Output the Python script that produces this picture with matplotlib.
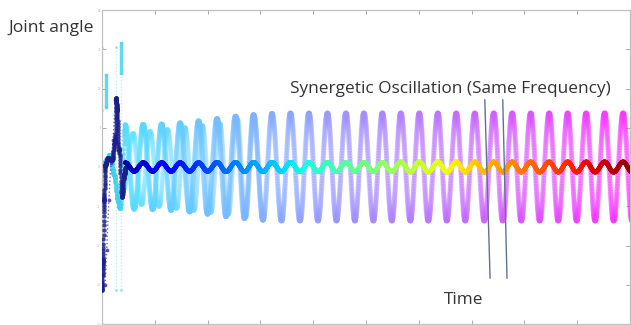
import matplotlib.pyplot as plt
import numpy as np
from matplotlib import cm

# extrema of the synchronised oscillation (time, angle)
big_t = [0.44, 0.61, 0.78, 0.96, 1.13, 1.31, 1.48, 1.66, 1.83, 2.00,
         2.18, 2.35, 2.53, 2.70, 2.87, 3.05, 3.22, 3.40, 3.57, 3.75,
         3.92, 4.09, 4.27, 4.44, 4.62, 4.79, 4.96, 5.14, 5.31, 5.49,
         5.66, 5.84, 6.01, 6.18, 6.36, 6.53, 6.71, 6.88, 7.06, 7.24,
         7.42, 7.59, 7.77, 7.94, 8.12, 8.29, 8.47, 8.64, 8.82, 8.99,
         9.17, 9.34, 9.52, 9.69, 9.87, 10.04]
big_v = [1.07, -1.07, 1.08, -1.08, 1.09, -1.10, 1.12, -1.14, 1.17, -1.20,
         1.23, -1.26, 1.29, -1.31, 1.33, -1.35, 1.36, -1.37, 1.37, -1.37,
         1.37, -1.37, 1.37, -1.37, 1.37, -1.37, 1.37, -1.37, 1.37, -1.37,
         1.37, -1.37, 1.37, -1.37, 1.37, -1.37, 1.37, -1.37, 1.37, -1.37,
         1.37, -1.37, 1.37, -1.37, 1.37, -1.37, 1.37, -1.37, 1.37, -1.37,
         1.37, -1.37, 1.37, -1.37, 1.37, -1.37]

# second joint before it locks onto the first one
lag_t = [0.40, 0.59, 0.75, 0.91, 1.08, 1.24, 1.41, 1.57, 1.74, 1.90,
         2.06, 2.23, 2.39, 2.56, 2.72, 2.88, 3.05]
lag_v = [-0.60, 0.85, -0.95, 0.90, -1.00, 0.95, -1.05, 1.00, -1.10, 1.05,
         -1.15, 1.10, -1.20, 1.22, -1.27, 1.30, -1.35]

# small oscillation around zero (same frequency, in phase)
small_v = [0.11, -0.11, 0.11, -0.11, 0.11, -0.11, 0.11, -0.11, 0.11, -0.11,
           0.12, -0.12, 0.12, -0.12, 0.12, -0.12, 0.12, -0.12, 0.12, -0.12,
           0.12, -0.12, 0.12, -0.12, 0.12, -0.12, 0.12, -0.12, 0.12, -0.12,
           0.13, -0.13, 0.13, -0.13, 0.13, -0.13, 0.13, -0.13, 0.13, -0.13,
           0.13, -0.13, 0.13, -0.13, 0.13, -0.13, 0.13, -0.13, 0.13, -0.13,
           0.13, -0.13, 0.13, -0.13, 0.13, -0.13]

# start-up transient
navy_t = [0.00, 0.02, 0.04, 0.06, 0.11, 0.19, 0.25, 0.27, 0.28, 0.32, 0.38, 0.42, 0.45]
navy_v = [-3.13, -2.37, -0.84, 0.05, 0.23, 0.18, 0.69, 1.76, 1.45, 0.43, -0.76, -0.20, 0.0]
violet_t = [0.06, 0.09, 0.13, 0.17, 0.21, 0.25]
violet_v = [-3.00, -2.11, -0.84, 0.10, 0.69, 1.70]
cyan_t = [0.02, 0.08, 0.15, 0.23, 0.30, 0.34, 0.44]
cyan_v = [-0.08, 0.18, 0.31, -0.20, -0.84, -1.04, 1.07]
jump_t = [0.0, 0.075, 0.265, 0.36]
jump_top = [3.03, 2.34, 3.06, 3.16]
jump_bot = [1.45, 1.53, -3.13, -3.13]

marks_t = [(7.25, 7.35), (7.59, 7.67)]
marks_v = (1.71, -2.83)

y_ticks = [-4, -3, -2, -1, 0, 1, 2, 3, 4]


def dense(ts, vs, n=60):
    xs, ys = [], []
    for i in range(len(ts) - 1):
        u = np.linspace(0, 1, n, endpoint=False)
        xs.append(ts[i] + (ts[i + 1] - ts[i]) * u)
        ys.append(vs[i] + (vs[i + 1] - vs[i]) * (1 - np.cos(np.pi * u)) / 2)
    return np.concatenate(xs), np.concatenate(ys)


def pastel(cols, w=0.2):
    cols = np.array(cols)
    cols[:, :3] = cols[:, :3] * (1 - w) + w
    return cols


plt.rcParams["font.family"] = ["Open Sans", "DejaVu Sans"]
fig = plt.figure(figsize=(6.31, 3.25), dpi=100)
ax = fig.add_axes([102 / 631, 1 / 325, 528 / 631, 314 / 325])

# transient
for t, a, b in zip(jump_t, jump_top, jump_bot):
    ax.plot([t, t], [a, b], ls=":", marker="o", ms=1.2, color="#7fdcef", lw=0.9, alpha=0.6)
ax.plot([jump_t[1]] * 2, [jump_top[1], jump_bot[1]], color="#3cd3ea", lw=2.5, alpha=0.8)
ax.plot([jump_t[3]] * 2, [jump_top[3], 2.4], color="#3cd3ea", lw=2.5, alpha=0.8)
cx, cy = dense(cyan_t, cyan_v, 25)
ax.scatter(cx, cy, s=12, color="#3cd3ea", alpha=0.7, lw=0)
ax.plot(violet_t, violet_v, ls=":", marker="o", ms=1.8, color="#4a3fb0", lw=1.0, alpha=0.8)
nx, ny = dense(navy_t, navy_v, 20)
ax.scatter(nx, ny, s=10, color="#1a1f8a", lw=0, alpha=0.85, zorder=4)

# second joint
lx, ly = dense(lag_t, lag_v)
ax.scatter(lx, ly, s=14, c=pastel(cm.cool(0.1 + lx / 10 * 0.8), 0.3), alpha=0.35, lw=0, zorder=2)

# big oscillation
bx, by = dense(big_t, big_v)
ax.scatter(bx, by, s=15, c=pastel(cm.cool(0.12 + 0.88 * bx / 10), 0.2), alpha=0.5, lw=0, zorder=3)

# small oscillation
sx, sy = dense(big_t, small_v)
ax.scatter(sx, sy, s=11, c=cm.jet(sx / 10.2), alpha=0.8, lw=0, zorder=5)

for (t0, t1) in marks_t:
    ax.plot([t0, t1], marks_v, color="#5f7390", lw=1, zorder=6)

ax.set_xlim(0, 10)
ax.set_ylim(-4, 4)
ax.set_xticks(np.arange(0, 11))
ax.set_xticklabels([])
ax.set_yticks(y_ticks)
ax.set_yticklabels([str(v) for v in y_ticks], fontsize=3, color="#aaaaaa")
ax.tick_params(direction="in", length=3, width=0.6, color="#999999",
               top=True, right=True, pad=1)
for s in ax.spines.values():
    s.set_color("#c0c0c0")
    s.set_linewidth(0.9)

fig.text(8 / 631, 1 - 28 / 325, "Joint angle", fontsize=12.6, color="#333333", va="center")
fig.text(450 / 631, 1 - 89 / 325, "Synergetic Oscillation (Same Frequency)",
         fontsize=12.4, color="#333333", ha="center", va="center")
fig.text(464 / 631, 1 - 300 / 325, "Time", fontsize=12.4, color="#333333",
         ha="center", va="center")

fig.savefig("out.png", dpi=100)
